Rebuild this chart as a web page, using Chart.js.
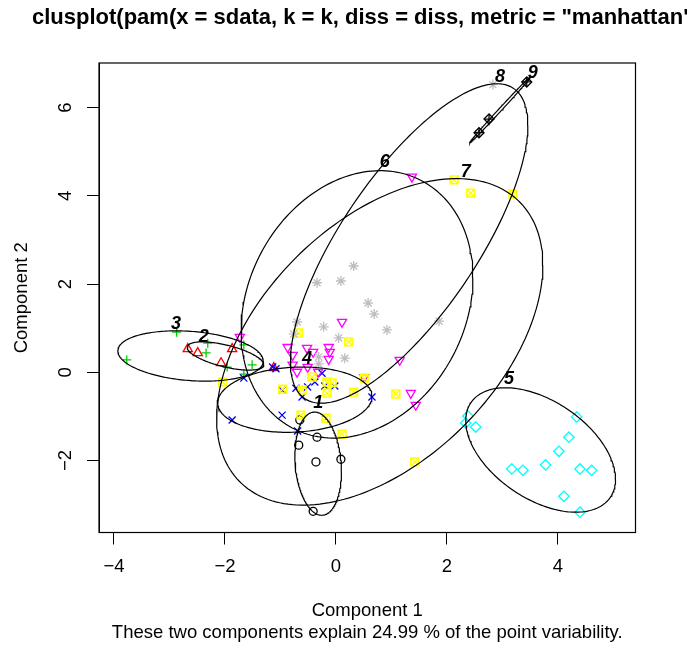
<!DOCTYPE html>
<html>
<head>
<meta charset="utf-8">
<script src="https://cdn.jsdelivr.net/npm/chart.js@4.4.1/dist/chart.umd.min.js"></script>
<style>
  html, body { margin: 0; padding: 0; background: #fff; }
</style>
</head>
<body>
<canvas id="myChart" width="687" height="646"></canvas>
<script>
// axis ticks and ranges
const xTicks = [-4, -2, 0, 2, 4]
const yTicks = [-2, 0, 2, 4, 6]
const xRange = [-4.27, 5.40]
const yRange = [-3.63, 7.01]

// observations, one pair of arrays per cluster
const clus1X = [-0.65, -0.34, -0.67, -0.36, 0.09, -0.41]
const clus1Y = [-1.08, -1.47, -1.65, -2.03, -1.97, -3.15]
const clus2X = [-2.67, -2.49, -1.87, -2.07, -1.12]
const clus2Y = [0.53, 0.44, 0.53, 0.21, 0.10]
const clus3X = [-2.87, -3.77, -2.31, -2.34, -1.66, -1.96, -1.51, -1.66]
const clus3Y = [0.91, 0.28, 0.66, 0.44, 0.62, 0.12, 0.17, -0.04]
const clus4X = [-1.87, -1.66, -1.08, -1.14, -0.97, -0.69, -0.61, -0.72, -0.51, -0.38, -0.25, -0.20, -0.02, 0.65, -0.97]
const clus4Y = [-1.08, -0.13, 0.08, 0.12, -0.97, -1.33, -0.56, -0.36, -0.33, -0.22, -0.02, -0.31, -0.31, -0.56, -0.40]
const clus5X = [2.38, 2.34, 2.52, 4.34, 4.20, 4.02, 3.78, 3.17, 3.37, 4.40, 4.61, 4.11, 4.40]
const clus5Y = [-0.99, -1.15, -1.24, -1.01, -1.47, -1.79, -2.10, -2.19, -2.22, -2.19, -2.22, -2.81, -3.17]
const clus6X = [1.37, 0.11, -1.73, -0.87, -0.78, -0.52, -0.41, -0.13, -0.11, -0.13, -0.78, -0.70, -0.51, -0.32, 0.51, 1.15, 1.35, 1.44]
const clus6Y = [4.43, 1.14, 0.80, 0.57, 0.39, 0.55, 0.46, 0.57, 0.46, 0.30, 0.17, 0.01, 0.12, 0.01, -0.11, 0.28, -0.47, -0.74]
const clus7X = [2.13, 2.43, 3.19, -0.67, 0.23, -2.04, -0.96, -0.63, -0.43, -0.16, -0.07, -0.16, -0.61, 0.32, 0.51, 1.08, -0.18, 0.11, 1.42]
const clus7Y = [4.36, 4.06, 4.04, 0.89, 0.69, -0.22, -0.38, -0.97, -0.11, -0.22, -0.24, -0.47, -0.40, -0.45, -0.13, -0.49, -1.04, -1.40, -2.03]
const clus8X = [2.83, 0.32, 0.09, -0.34, 0.58, 0.69, 0.92, 1.86, -0.70, -0.76, -0.22, 0.05, 0.16, -0.31, -0.31]
const clus8Y = [6.52, 2.41, 2.07, 2.03, 1.57, 1.32, 0.96, 1.16, 1.14, 0.87, 1.03, 0.78, 0.32, 0.35, 0.19]
const clus9X = [3.44, 2.76, 2.58]
const clus9Y = [6.58, 5.74, 5.43]

// spanning ellipses: centre, half extents along x and y, cos of the x/y phase
const ellCx = [-0.32, -1.99, -2.62, -0.74, 3.69, 0.38, 0.79, 1.32, 2.96]
const ellCy = [-2.07, 0.37, 0.37, -0.62, -1.76, 1.54, 0.69, 2.92, 5.95]
const ellRx = [0.42, 0.69, 1.31, 1.39, 1.35, 2.09, 2.94, 2.14, 0.55]
const ellRy = [1.17, 0.32, 0.57, 0.74, 1.41, 3.03, 3.70, 3.62, 0.75]
const ellCos = [-0.15, -0.61, -0.20, 0.10, -0.47, 0.20, 0.47, 0.74, 0.998]

// cluster numbers written next to the ellipses
const clusLabels = ['1', '2', '3', '4', '5', '6', '7', '8', '9']
const labelX = [-0.32, -2.38, -2.88, -0.52, 3.12, 0.88, 2.34, 2.96, 3.55]
const labelY = [-0.70, 0.80, 1.10, 0.31, -0.15, 4.77, 4.54, 6.70, 6.79]

const mainTitle = 'clusplot(pam(x = sdata, k = k, diss = diss, metric = "manhattan"))'
const xTitle = 'Component 1'
const yTitle = 'Component 2'
const subTitle = 'These two components explain 24.99 % of the point variability.'

const FONT = '"Liberation Sans", Arial, Helvetica, sans-serif'

/////////////////////////////////
// build datasets
/////////////////////////////////
const toPoints = (xs, ys) => xs.map((v, i) => ({ x: v, y: ys[i] }))

const ellipsePoints = (i) => {
  const phase = Math.acos(ellCos[i])
  const pts = []
  for (let k = 0; k <= 200; k++) {
    const t = 2 * Math.PI * k / 200
    pts.push({ x: ellCx[i] + ellRx[i] * Math.cos(t), y: ellCy[i] + ellRy[i] * Math.cos(t - phase) })
  }
  return pts
}

const ellipseSet = (i) => ({
  data: ellipsePoints(i),
  showLine: true,
  pointRadius: 0,
  borderColor: '#000',
  borderWidth: 1.2,
  tension: 0,
  fill: false
})

const pointSet = (xs, ys, color, style, radius, rotation = 0, width = 1.3) => ({
  data: toPoints(xs, ys),
  showLine: false,
  pointStyle: style,
  pointRadius: radius,
  pointRotation: rotation,
  pointBorderColor: color,
  pointBackgroundColor: 'rgba(0,0,0,0)',
  pointBorderWidth: width
})

const datasets = []
clusLabels.forEach((l, i) => datasets.push(ellipseSet(i)))
datasets.push(pointSet(clus9X, clus9Y, '#000000', 'cross', 5))
datasets.push(pointSet(clus9X, clus9Y, '#000000', 'rectRot', 5))
datasets.push(pointSet(clus8X, clus8Y, '#BEBEBE', 'star', 5))
datasets.push(pointSet(clus7X, clus7Y, '#FFFF00', 'crossRot', 5.5, 0, 1.5))
datasets.push(pointSet(clus7X, clus7Y, '#FFFF00', 'rect', 5.5, 0, 1.6))
datasets.push(pointSet(clus6X, clus6Y, '#FF00FF', 'triangle', 5.3, 180))
datasets.push(pointSet(clus5X, clus5Y, '#00FFFF', 'rectRot', 5.2))
datasets.push(pointSet(clus4X, clus4Y, '#0000FF', 'crossRot', 5))
datasets.push(pointSet(clus3X, clus3Y, '#00CD00', 'cross', 4.5))
datasets.push(pointSet(clus2X, clus2Y, '#FF0000', 'triangle', 5.3))
datasets.push(pointSet(clus1X, clus1Y, '#000000', 'circle', 4))

/////////////////////////////////
// texts, box and labels in the R style
/////////////////////////////////
const rStyle = {
  id: 'rStyle',
  beforeDraw(chart) {
    const { ctx } = chart
    ctx.save()
    ctx.fillStyle = '#fff'
    ctx.fillRect(0, 0, chart.width, chart.height)
    ctx.restore()
  },
  afterDraw(chart) {
    const { ctx, chartArea: a, scales: { x, y } } = chart
    const num = v => String(v).replace('-', '\u2212')
    ctx.save()
    ctx.strokeStyle = '#000'
    ctx.lineWidth = 1.2
    ctx.strokeRect(a.left, a.top, a.right - a.left, a.bottom - a.top)

    ctx.fillStyle = '#000'
    ctx.textAlign = 'center'
    ctx.textBaseline = 'middle'
    ctx.font = `18.5px ${FONT}`
    xTicks.forEach(v => ctx.fillText(num(v), x.getPixelForValue(v), a.bottom + 34))
    yTicks.forEach(v => {
      ctx.save()
      ctx.translate(66, y.getPixelForValue(v))
      ctx.rotate(-Math.PI / 2)
      ctx.fillText(num(v), 0, 0)
      ctx.restore()
    })
    const cx = (a.left + a.right) / 2
    ctx.fillText(xTitle, cx, 611)
    ctx.fillText(subTitle, cx, 633)
    ctx.save()
    ctx.translate(22, (a.top + a.bottom) / 2)
    ctx.rotate(-Math.PI / 2)
    ctx.fillText(yTitle, 0, 0)
    ctx.restore()

    ctx.font = `bold 22px ${FONT}`
    ctx.textAlign = 'left'
    ctx.textBaseline = 'alphabetic'
    ctx.fillText(mainTitle, 32, 24)

    ctx.font = `italic bold 18px ${FONT}`
    ctx.textAlign = 'center'
    ctx.textBaseline = 'middle'
    clusLabels.forEach((l, i) => ctx.fillText(l, x.getPixelForValue(labelX[i]), y.getPixelForValue(labelY[i])))
    ctx.restore()
  }
}

const ctx = document.getElementById('myChart')
const chart = new Chart(ctx, {
  type: 'scatter',
  data: { datasets },
  plugins: [rStyle],
  options: {
    responsive: false,
    animation: false,
    devicePixelRatio: 1,
    layout: { padding: { top: 63, right: 51.5, left: 0, bottom: 0 } },
    plugins: { legend: { display: false }, tooltip: { enabled: false } },
    scales: {
      x: {
        type: 'linear',
        min: xRange[0],
        max: xRange[1],
        afterBuildTicks: s => { s.ticks = xTicks.map(v => ({ value: v })) },
        afterFit: s => { s.height = 113.5 },
        grid: { drawOnChartArea: false, color: '#000', tickLength: 12 },
        border: { color: '#000' },
        ticks: { display: false }
      },
      y: {
        type: 'linear',
        min: yRange[0],
        max: yRange[1],
        afterBuildTicks: s => { s.ticks = yTicks.map(v => ({ value: v })) },
        afterFit: s => { s.width = 99 },
        grid: { drawOnChartArea: false, color: '#000', tickLength: 12 },
        border: { color: '#000' },
        ticks: { display: false }
      }
    }
  }
})
</script>
</body>
</html>
